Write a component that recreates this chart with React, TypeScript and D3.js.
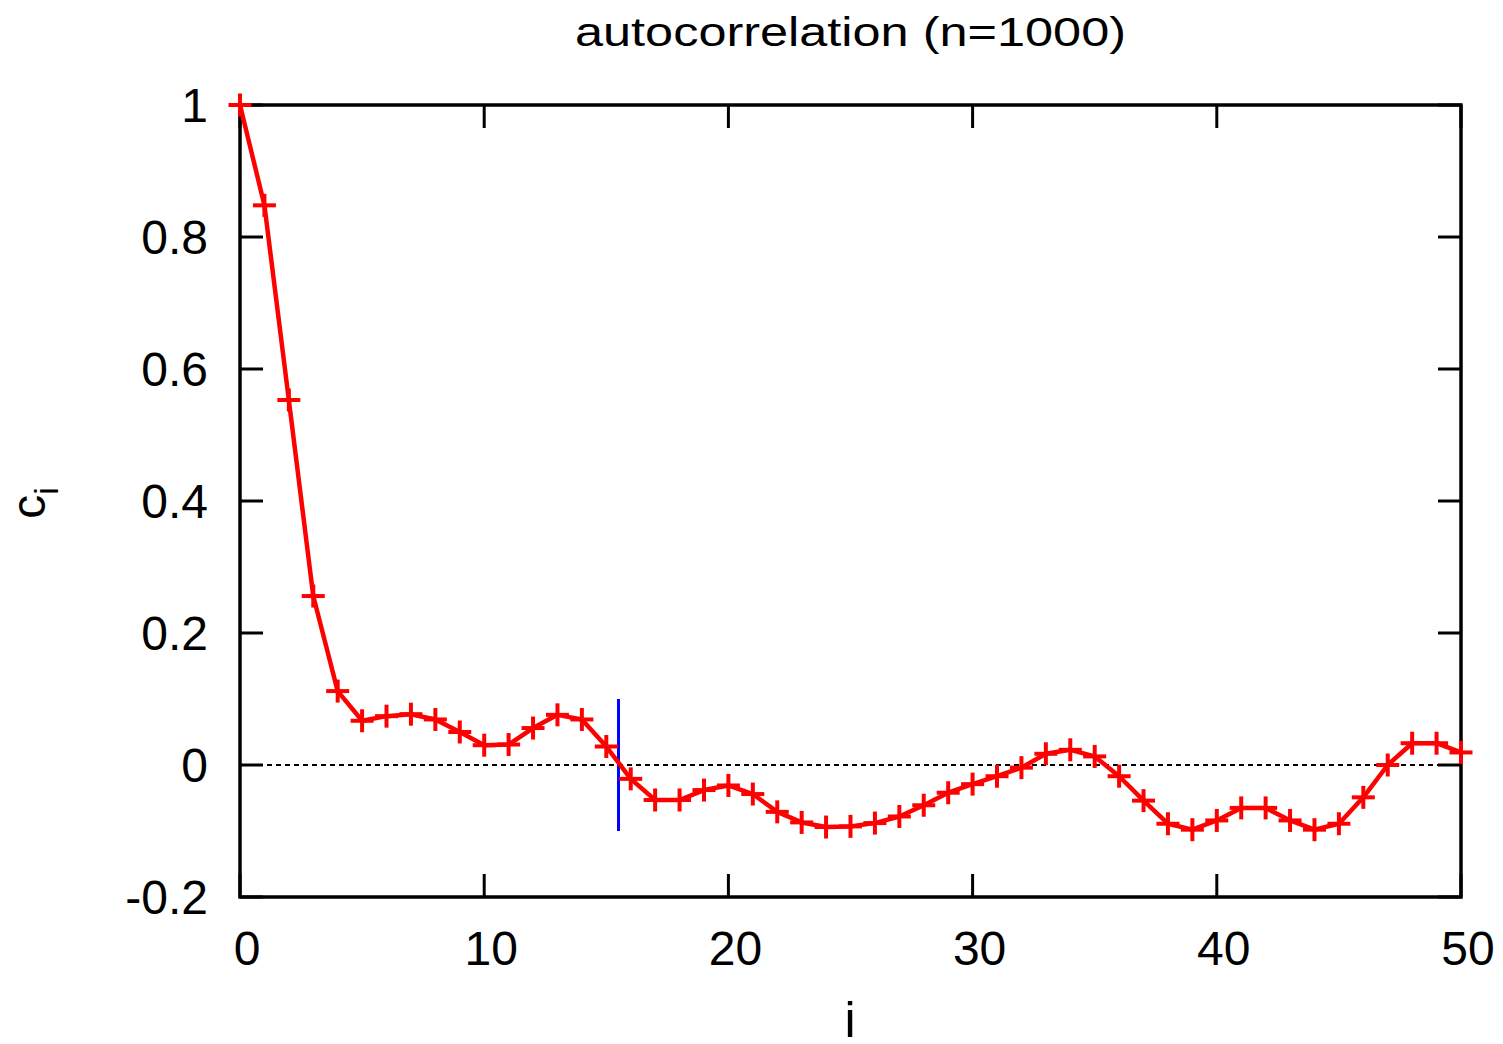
import React from "react";
import * as d3 from "d3";

const lags: number[] = Array.from({ length: 51 }, (_, i) => i);
const corr: number[] = [
  1.0, 0.848, 0.553, 0.256, 0.112, 0.067, 0.074, 0.077, 0.069, 0.05,
  0.03, 0.031, 0.056, 0.076, 0.069, 0.028, -0.021, -0.053, -0.053, -0.038,
  -0.031, -0.044, -0.071, -0.087, -0.094, -0.093, -0.088, -0.078, -0.061, -0.042,
  -0.029, -0.017, -0.004, 0.017, 0.023, 0.013, -0.017, -0.054, -0.089, -0.098,
  -0.084, -0.065, -0.065, -0.084, -0.098, -0.089, -0.049, 0.0, 0.033, 0.033,
  0.019,
];
const xTicks: number[] = [0, 10, 20, 30, 40, 50];
const yTicks: number[] = [-0.2, 0, 0.2, 0.4, 0.6, 0.8, 1];
const yTickLabels: string[] = ["-0.2", "0", "0.2", "0.4", "0.6", "0.8", "1"];
const markerX: number[] = [15.5];
const markerY: number[] = [-0.1, 0.1];
const title = "autocorrelation (n=1000)";

const W = 1503;
const H = 1044;
const L = 240;
const R = 1461;
const T = 105;
const B = 897;
const FONT = "'Liberation Sans', Arial, Helvetica, sans-serif";

export default function App() {
  const x = d3.scaleLinear().domain([0, 50]).range([L, R]);
  const y = d3.scaleLinear().domain([-0.2, 1]).range([B, T]);
  const pts: [number, number][] = lags.map((l, i) => [l, corr[i]]);
  const line = d3
    .line<[number, number]>()
    .x((d) => x(d[0]))
    .y((d) => y(d[1]))
    .curve(d3.curveLinear);
  const tickLen = 23;
  const cs = 11.5;

  return (
    <svg
      width={W}
      height={H}
      style={{ position: "absolute", left: 0, top: 0, background: "#fff" }}
      fontFamily={FONT}
    >
      <rect x={0} y={0} width={W} height={H} fill="#fff" />
      {/* zero line */}
      <line
        x1={L}
        x2={R}
        y1={y(0)}
        y2={y(0)}
        stroke="#000"
        strokeWidth={2}
        strokeDasharray="5,4"
      />
      {/* ticks */}
      {yTicks.map((t, i) => (
        <g key={"y" + t}>
          <line x1={L} x2={L + tickLen} y1={y(t)} y2={y(t)} stroke="#000" strokeWidth={3} />
          <line x1={R - tickLen} x2={R} y1={y(t)} y2={y(t)} stroke="#000" strokeWidth={3} />
          <text
            x={L - 32}
            y={y(t)}
            fontSize={48}
            textAnchor="end"
            dominantBaseline="central"
          >
            {yTickLabels[i]}
          </text>
        </g>
      ))}
      {xTicks.map((t) => (
        <g key={"x" + t}>
          <line x1={x(t)} x2={x(t)} y1={B} y2={B - tickLen} stroke="#000" strokeWidth={3} />
          <line x1={x(t)} x2={x(t)} y1={T} y2={T + tickLen} stroke="#000" strokeWidth={3} />
          <text x={x(t) + 7} y={965} fontSize={48} textAnchor="middle">
            {t}
          </text>
        </g>
      ))}
      {/* frame */}
      <rect x={L} y={T} width={R - L} height={B - T} fill="none" stroke="#000" strokeWidth={3.5} />
      {/* blue marker */}
      <line
        x1={x(markerX[0])}
        x2={x(markerX[0])}
        y1={y(markerY[0])}
        y2={y(markerY[1])}
        stroke="#0000ff"
        strokeWidth={3}
      />
      {/* data line */}
      <path d={line(pts) || ""} fill="none" stroke="#ff0000" strokeWidth={4.5} strokeLinejoin="round" />
      {pts.map((p, i) => (
        <g key={"p" + i} stroke="#ff0000" strokeWidth={4}>
          <line x1={x(p[0]) - cs} x2={x(p[0]) + cs} y1={y(p[1])} y2={y(p[1])} />
          <line x1={x(p[0])} x2={x(p[0])} y1={y(p[1]) - cs} y2={y(p[1]) + cs} />
        </g>
      ))}
      {/* title */}
      <text
        x={(L + R) / 2}
        y={46}
        fontSize={40}
        textAnchor="middle"
        textLength={551}
        lengthAdjust="spacingAndGlyphs"
      >
        {title}
      </text>
      {/* axis labels */}
      <text x={850} y={1037} fontSize={50} textAnchor="middle">
        i
      </text>
      <text transform="translate(45,503) rotate(-90)" fontSize={48} textAnchor="middle">
        c
        <tspan fontSize={34} dy={13}>
          i
        </tspan>
      </text>
    </svg>
  );
}
